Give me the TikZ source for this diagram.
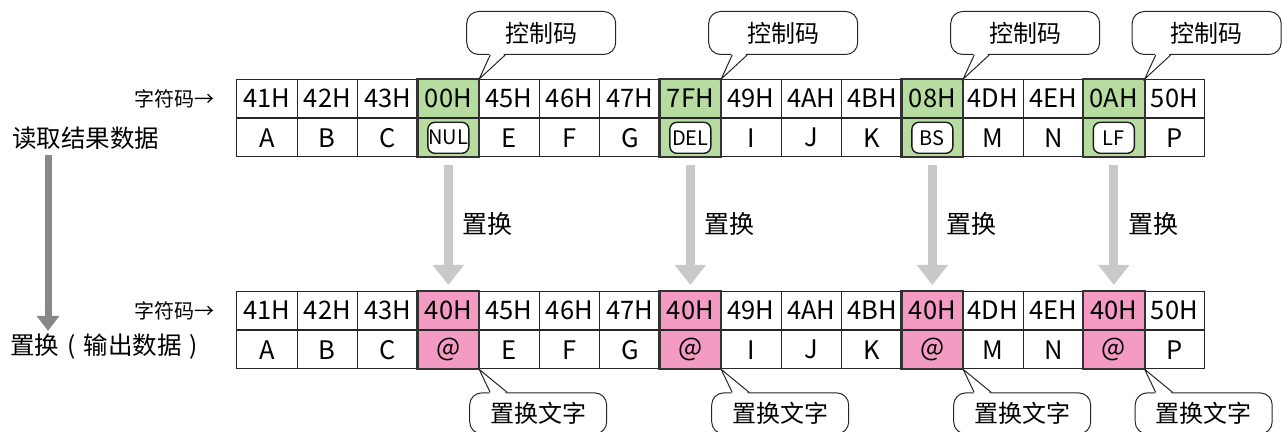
\documentclass[tikz,border=0pt]{standalone}
\usepackage{fontspec}
\setmainfont{Noto Sans CJK SC}
\usetikzlibrary{arrows.meta,calc}

\definecolor{ctrlgreen}{RGB}{182,220,160}
\definecolor{subpink}{RGB}{243,155,194}
\definecolor{arrowgray}{RGB}{200,201,203}
\definecolor{flowgray}{RGB}{135,136,140}

\tikzset{
  cell/.style={draw=black!85, line width=0.6pt, minimum width=30.25pt, minimum height=19pt,
    inner sep=0pt, font=\fontsize{12.75}{14}\selectfont},
  hlline/.style={draw=black!80, line width=1.1pt},
  ctlbox/.style={draw=black!90, fill=white, line width=0.7pt, rounded corners=3.5pt,
    minimum width=20.5pt, minimum height=15.5pt, inner sep=0.3pt, font=\fontsize{10}{11}\selectfont},
  bubble/.style={draw=black!85, fill=white, line width=0.5pt, rounded corners=6pt,
    inner sep=0pt, font=\fontsize{12}{14}\selectfont},
  bubline/.style={draw=black!85, line width=0.5pt},
  repl/.style={arrowgray, line width=4.5pt, -{Triangle[width=15pt,length=10pt]},
    shorten <=4pt, shorten >=3pt},
  flow/.style={flowgray, line width=3.5pt, -{Triangle[width=11pt,length=7.5pt]},
    shorten <=2.5pt, shorten >=1.5pt},
  lbl/.style={inner sep=0pt, font=\fontsize{12.25}{14}\selectfont}
}

\begin{document}
\begin{tikzpicture}[x=0.5pt, y=-0.5pt]
  \useasboundingbox (0,0) rectangle (1282,432);

  % 读取结果数据
  \foreach \code/\ch/\fc [count=\i] in {41H/A/white,42H/B/white,43H/C/white,00H//ctrlgreen,
      45H/E/white,46H/F/white,47H/G/white,7FH//ctrlgreen,49H/I/white,4AH/J/white,4BH/K/white,
      08H//ctrlgreen,4DH/M/white,4EH/N/white,0AH//ctrlgreen,50H/P/white}{
    \node[cell, fill=\fc, anchor=north west] (c\i) at ({236+60.5*(\i-1)},79) {\code};
    \node[cell, fill=\fc, anchor=north] (l\i) at (c\i.south) {\ch};
  }
  \foreach \k/\t in {4/NUL,8/DEL,12/BS,15/LF}{
    \draw[hlline] (c\k.north west) rectangle (l\k.south east);
    \node[ctlbox] (n\k) at (l\k) {\t};
  }

  % 置换后
  \foreach \code/\ch/\fc [count=\i] in {41H/A/white,42H/B/white,43H/C/white,40H/@/subpink,
      45H/E/white,46H/F/white,47H/G/white,40H/@/subpink,49H/I/white,4AH/J/white,4BH/K/white,
      40H/@/subpink,4DH/M/white,4EH/N/white,40H/@/subpink,50H/P/white}{
    \node[cell, fill=\fc, anchor=north west] (C\i) at ({236+60.5*(\i-1)},291) {\code};
    \node[cell, fill=\fc, anchor=north] (L\i) at (C\i.south) {\ch};
  }
  \foreach \k in {4,8,12,15}
    \draw[hlline] (C\k.north west) rectangle (L\k.south east);

  % 左侧说明
  \node[lbl, font=\fontsize{10}{12}\selectfont, anchor=east] (s1) at ([xshift=-10.5pt]c1.west) {字符码→};
  \node[lbl, font=\fontsize{10}{12}\selectfont, anchor=east] (s2) at ([xshift=-10.5pt]C1.west) {字符码→};
  \node[lbl, anchor=west] (rd) at (12,138) {读取结果数据};
  \node[lbl, anchor=west] (out) at (10,347)
    {置换\hspace{0.33em}(\hspace{0.33em}输出数据\hspace{0.33em})};
  \coordinate (fa) at ([xshift=18pt]rd.south west);
  \draw[flow] (fa) -- (fa |- out.north);

  % 置换箭头
  \foreach \k in {4,8,12,15}
    \draw[repl] (l\k.south) -- (C\k.north)
      node[midway, right, black, xshift=1.5pt, font=\fontsize{12.5}{14}\selectfont] {置换};

  % 控制码
  \foreach \k in {4,8,12,15}{
    \node[bubble, minimum width=74.5pt, minimum height=21.5pt, anchor=south west] (k\k)
      at ([xshift=-6.5pt,yshift=12pt]c\k.north east) {控制码};
    \fill[white] ([xshift=12pt,yshift=1pt]k\k.south west) -- (c\k.north east)
      -- ([xshift=19.5pt,yshift=1pt]k\k.south west) -- cycle;
    \draw[bubline] ([xshift=12pt]k\k.south west) -- (c\k.north east)
      -- ([xshift=19.5pt]k\k.south west);
  }

  % 置换文字
  \foreach \k in {4,8,12,15}{
    \node[bubble, minimum width=68.5pt, minimum height=20.5pt, anchor=north west] (r\k)
      at ([xshift=-5pt,yshift=-11.5pt]L\k.south east) {置换文字};
    \fill[white] ([xshift=10.5pt,yshift=-1pt]r\k.north west) -- (L\k.south east)
      -- ([xshift=19pt,yshift=-1pt]r\k.north west) -- cycle;
    \draw[bubline] ([xshift=10.5pt]r\k.north west) -- (L\k.south east)
      -- ([xshift=19pt]r\k.north west);
  }
\end{tikzpicture}
\end{document}
